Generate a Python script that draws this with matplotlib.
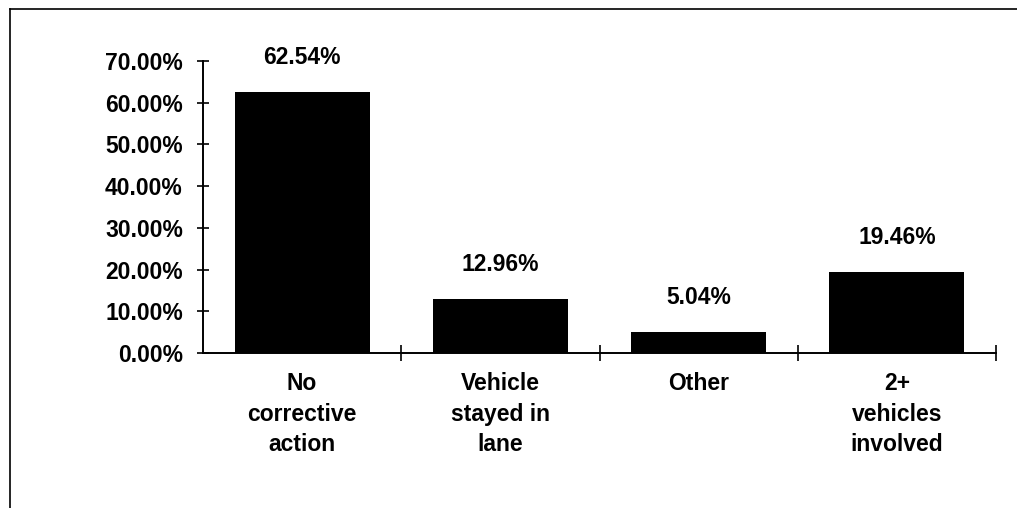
import matplotlib
matplotlib.use("Agg")
import matplotlib.pyplot as plt
from matplotlib.lines import Line2D
from matplotlib.ticker import FixedLocator

categories = ["No\ncorrective\naction", "Vehicle\nstayed in\nlane", "Other", "2+\nvehicles\ninvolved"]
values = [62.54, 12.96, 5.04, 19.46]
value_labels = ["62.54%", "12.96%", "5.04%", "19.46%"]
yticks = [0, 10, 20, 30, 40, 50, 60, 70]
ytick_labels = ["0.00%", "10.00%", "20.00%", "30.00%", "40.00%", "50.00%", "60.00%", "70.00%"]

plt.rcParams['font.family'] = ['Liberation Sans', 'DejaVu Sans']
plt.rcParams['font.weight'] = 'bold'

W, H = 1017, 508
fig = plt.figure(figsize=(W / 100, H / 100), dpi=100)
ax = fig.add_axes([203 / W, 1 - 353 / H, (996 - 203) / W, (353 - 61) / H])

x = list(range(len(categories)))
ax.bar(x, values, width=0.68, color="black", zorder=2)
ax.set_xlim(-0.5, len(categories) - 0.5)
ax.set_ylim(0, 70)

FS = 16.5
for xi, v, lab in zip(x, values, value_labels):
    ax.annotate(lab, (xi, v), xytext=(0, 25), textcoords="offset points",
                ha="center", va="center", fontsize=FS, fontweight="bold")

ax.set_yticks(yticks)
ax.set_yticklabels(ytick_labels, fontsize=FS, fontweight="bold")
ax.tick_params(axis="y", direction="inout", length=9, width=1.2, pad=10)

ax.set_xticks(x)
ax.set_xticklabels(categories, fontsize=FS, fontweight="bold", linespacing=1.4)
ax.tick_params(axis="x", which="major", length=0, pad=14)
ax.xaxis.set_minor_locator(FixedLocator([0.5, 1.5, 2.5, 3.5]))
ax.tick_params(axis="x", which="minor", direction="inout", length=11, width=1.2)

for s in ["top", "right"]:
    ax.spines[s].set_visible(False)
for s in ["left", "bottom"]:
    ax.spines[s].set_linewidth(1.4)
    ax.spines[s].set_color("black")

# outer frame (top and left edges)
fig.add_artist(Line2D([10 / W, 10 / W], [0, 1 - 9 / H], transform=fig.transFigure, color="black", lw=1.2))
fig.add_artist(Line2D([10 / W, 1], [1 - 9 / H, 1 - 9 / H], transform=fig.transFigure, color="black", lw=1.2))

fig.savefig("out.png", dpi=100)
